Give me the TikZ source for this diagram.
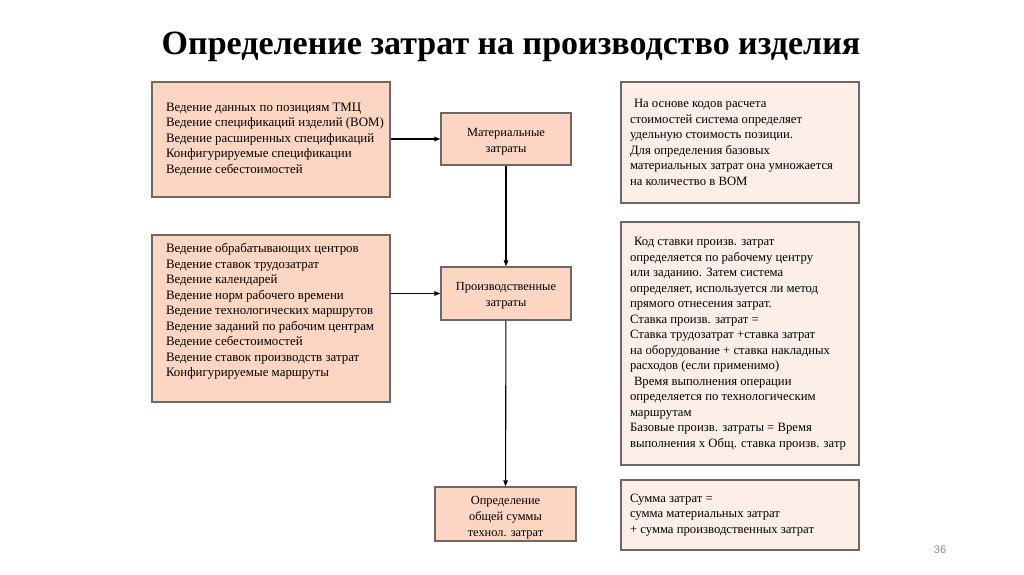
\documentclass[tikz,border=0pt]{standalone}
\usepackage{fontspec}
\setmainfont{Liberation Serif}
\newfontfamily\numfont{Liberation Sans}
\usetikzlibrary{arrows.meta,positioning}

\definecolor{peach}{RGB}{252,214,194}
\definecolor{pale}{RGB}{253,238,232}
\definecolor{edge}{RGB}{110,104,100}

\begin{document}
\begin{tikzpicture}[x=1pt, y=-1pt,
  box/.style={draw=edge, line width=1.3pt, fill=peach, font=\fontsize{12.9}{15.5}\selectfont,
    align=left, inner sep=0pt},
  note/.style={box, fill=pale, font=\fontsize{12.7}{15.5}\selectfont},
  cost/.style={draw=edge, line width=1.3pt, fill=peach, font=\fontsize{12.4}{16}\selectfont,
    align=center, inner sep=0pt},
  arrow/.style={-{Triangle[length=6pt,width=4.5pt]}, line width=1.1pt, black}]

\useasboundingbox (0,0) rectangle (1024,574);

\node[font=\bfseries\fontsize{34}{38}\selectfont] (title) at (511,47)
  {Определение затрат на производство изделия};

% left column
\node[box, minimum width=238pt, minimum height=115pt] (items) at (271,139.5)
  {\hspace*{14pt}\parbox[c]{224pt}{Ведение данных по позициям ТМЦ\\
   Ведение спецификаций изделий (BOM)\\
   Ведение расширенных спецификаций\\
   Конфигурируемые спецификации\\
   Ведение себестоимостей}};
\node[box, minimum width=238pt, minimum height=167pt] (routes) at (271,318.5)
  {\hspace*{14pt}\parbox[c]{224pt}{Ведение обрабатывающих центров\\
   Ведение ставок трудозатрат\\
   Ведение календарей\\
   Ведение норм рабочего времени\\
   Ведение технологических маршрутов\\
   Ведение заданий по рабочим центрам\\
   Ведение себестоимостей\\
   Ведение ставок производств затрат\\
   Конфигурируемые маршруты\par\vspace*{14pt}}};

% middle column
\node[cost, minimum width=130pt, minimum height=52pt] (mat) at (506,139)
  {\raisebox{-3pt}[\height][\depth]{\parbox{128pt}{\centering Материальные\\затраты}}};
\node[cost, minimum width=130pt, minimum height=53pt] (prod) at (506,293.5)
  {\raisebox{-2pt}[\height][\depth]{\parbox{128pt}{\centering Производственные\\затраты}}};
\node[cost, minimum width=141pt, minimum height=54pt] (total) at (505.5,514)
  {\raisebox{-4pt}[\height][\depth]{\parbox{139pt}{\centering Определение\\общей суммы\\технол. затрат}}};

% right column
\node[note, minimum width=238pt, minimum height=121pt] (matnote) at (740,142.5)
  {\hspace*{9pt}\parbox[c]{229pt}{\hspace*{4pt}На основе кодов расчета\\
   стоимостей система определяет\\
   удельную стоимость позиции.\\
   Для определения базовых\\
   материальных затрат она умножается\\
   на количество в BOM}};
\node[note, minimum width=238pt, minimum height=243pt] (prodnote) at (740,343.5)
  {\hspace*{9pt}\parbox[c]{229pt}{\hspace*{4pt}Код ставки произв. затрат\\
   определяется по рабочему центру\\
   или заданию. Затем система\\
   определяет, используется ли метод\\
   прямого отнесения затрат.\\
   Ставка произв. затрат =\\
   Ставка трудозатрат +ставка затрат\\
   на оборудование + ставка накладных\\
   расходов (если применимо)\\
   \hspace*{4pt}Время выполнения операции\\
   определяется по технологическим\\
   маршрутам\\
   Базовые произв. затраты = Время\\
   выполнения х Общ. ставка произв. затр}};
\node[note, minimum width=238pt, minimum height=70pt] (totalnote) at (740,515)
  {\hspace*{9pt}\parbox[c]{229pt}{Сумма затрат =\\
   сумма материальных затрат\\
   + сумма производственных затрат}};

\node[font=\numfont\fontsize{11}{13}\selectfont, text=black!45] (page) at (940,550) {36};

\draw[arrow] (items.east |- mat) -- (mat.west);
\draw[arrow] (routes.east |- prod) -- (prod.west);
\draw[arrow] (mat) -- (prod);
\draw[arrow] (prod) -- (total);
\end{tikzpicture}
\end{document}
